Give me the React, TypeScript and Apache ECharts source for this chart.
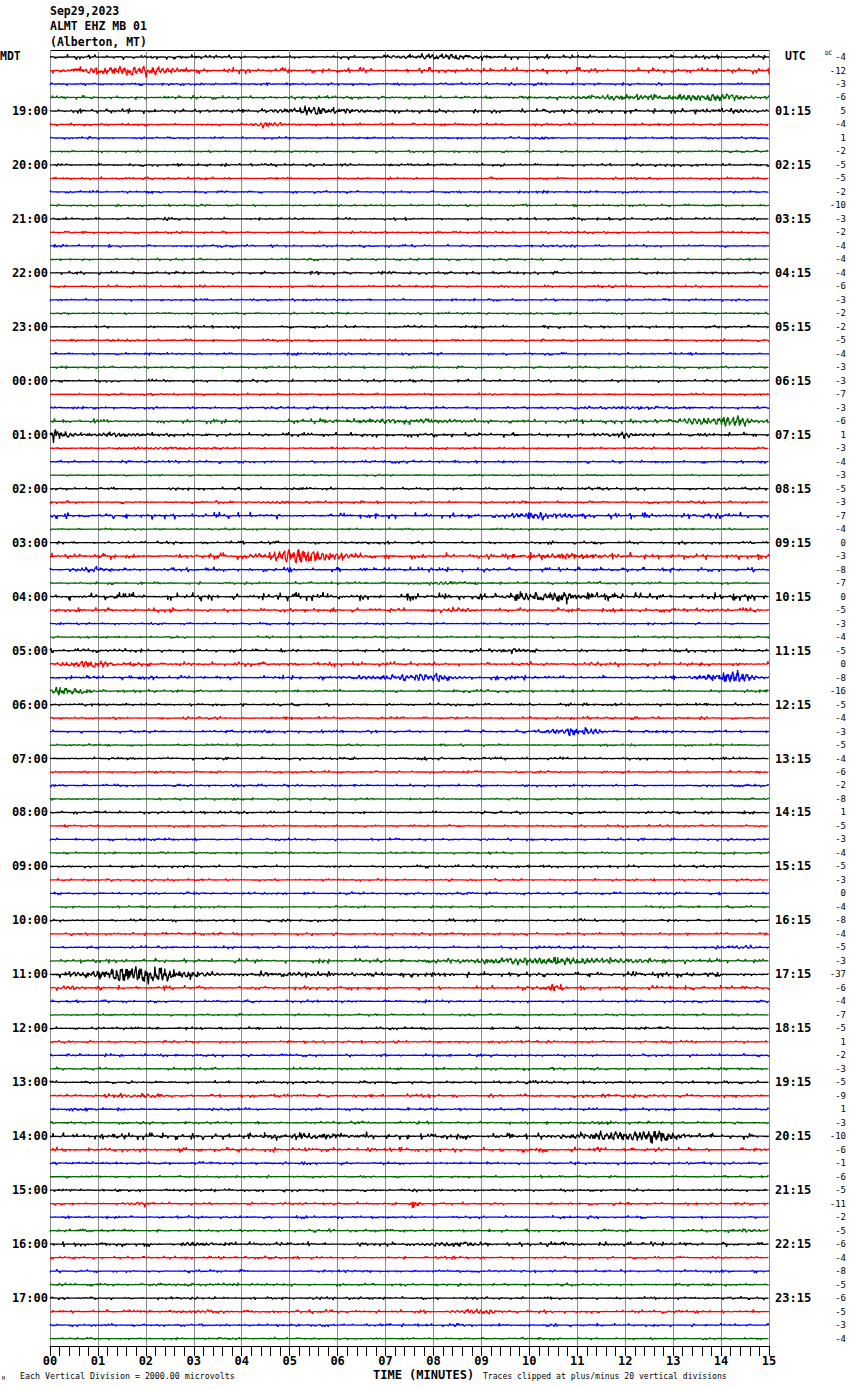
import React, { useEffect, useRef } from "react";
import * as echarts from "echarts";

// ---------- data ----------
const TRACE_COLORS = ["#000000", "#ff0000", "#0000ff", "#006600"];
const MINUTE_TICKS = ["00","01","02","03","04","05","06","07","08","09","10","11","12","13","14","15"];
const MDT_ROWS = [4,8,12,16,20,24,28,32,36,40,44,48,52,56,60,64,68,72,76,80,84,88,92];
const MDT_LABELS = ["19:00","20:00","21:00","22:00","23:00","00:00","01:00","02:00","03:00","04:00","05:00","06:00","07:00","08:00","09:00","10:00","11:00","12:00","13:00","14:00","15:00","16:00","17:00"];
const UTC_LABELS = ["01:15","02:15","03:15","04:15","05:15","06:15","07:15","08:15","09:15","10:15","11:15","12:15","13:15","14:15","15:15","16:15","17:15","18:15","19:15","20:15","21:15","22:15","23:15"];
const DC_VALUES = [
  -4,-12,-3,-6, 5,-4,1,-2, -5,-5,-2,-10, -3,-2,-4,-4,
  -4,-6,-3,-2, -2,-5,-4,-3, -3,-7,-3,-6, 1,-3,-4,-3,
  -5,-3,-7,-4, 0,-3,-8,-7, 0,-5,-3,-4, -5,0,-8,-16,
  -5,-4,-3,-5, -4,-6,-2,-8, 1,-5,-3,-4, -5,-3,0,-4,
  -8,-4,-5,-3, -37,-6,-4,-7, -5,1,-2,-3, -5,-9,1,-3,
  -10,-6,-1,-6, -5,-11,-2,-5, -6,-4,-8,-5, -6,-5,-3,-4,
];
// background noise level of each trace (pixels, peak)
const NOISE_PX = [
  1.5,2,1,1.2, 1.5,1,0.8,0.8, 1,0.9,0.9,0.8, 1,0.9,0.9,0.8,
  1,0.9,0.9,0.8, 1,0.9,0.9,0.8, 1,0.8,1,1.5, 1.5,0.8,1,0.6,
  1,1,2,0.7, 1,2,1.5,1, 2.5,1.5,0.8,0.8, 1.2,1.5,1.5,1,
  1,1,1,0.8, 1,0.9,0.9,0.8, 1,0.9,0.9,0.8, 1,0.9,0.9,0.8,
  1,1,1,1.5, 2,1.5,1,0.8, 1,0.9,1,1, 1,1.2,1,1,
  2,1.5,1,0.8, 1,1,1,1, 1.5,1,1,1, 1,1.2,1,0.8,
];
// [trace, startMin, peakMin, endMin, amplitudePx]
const EVENTS = [
  [0, 6.8, 8.3, 10.0, 3.5], [1, 0.0, 2.0, 3.3, 6], [3, 9.5, 14.2, 15.0, 4],
  [4, 4.3, 5.6, 7.5, 5], [4, 12.5, 14.5, 15.0, 2], [5, 3.9, 4.6, 5.3, 2.5],
  [26, 9.5, 12.0, 15.0, 1.2], [27, 5.0, 7.8, 10.0, 2.5], [27, 12.5, 14.3, 15.0, 6],
  [28, 0.0, 0.05, 0.6, 10], [28, 0.3, 1.5, 3.0, 2.5], [28, 11.0, 12.0, 13.0, 2],
  [29, 1.5, 2.5, 4.0, 1.5], [33, 4.0, 5.0, 6.5, 1.5], [34, 9.2, 10.2, 11.8, 4],
  [37, 4.0, 5.2, 7.0, 8], [37, 9.5, 11.0, 12.5, 3], [38, 0.3, 1.0, 2.0, 2],
  [39, 7.5, 8.5, 9.7, 2], [40, 9.2, 10.6, 11.5, 6], [41, 8.1, 8.5, 9.2, 3],
  [44, 9.2, 9.7, 10.5, 2.5], [45, 0.0, 0.8, 2.1, 5], [46, 5.3, 8.0, 9.0, 3.5],
  [46, 13.2, 14.3, 15.0, 7], [47, 0.0, 0.2, 1.3, 6], [50, 4.0, 4.5, 5.0, 1.5],
  [50, 10.0, 11.2, 11.8, 5], [66, 13.5, 14.5, 15.0, 1.5], [67, 7.0, 10.5, 15.0, 4],
  [68, 0.3, 2.0, 4.0, 10], [68, 4.0, 5.0, 8.0, 2], [69, 0.0, 0.5, 1.0, 2],
  [69, 10.2, 10.5, 10.8, 5], [77, 1.0, 2.2, 2.6, 2.5], [78, 0.4, 0.7, 1.1, 3],
  [79, 11.0, 11.5, 12.0, 2], [80, 4.0, 5.5, 7.5, 3.5], [80, 10.0, 12.8, 13.5, 6],
  [85, 7.5, 7.6, 7.8, 7], [85, 1.5, 2.0, 2.2, 2], [87, 14.0, 14.5, 15.0, 2],
  [88, 2.5, 3.0, 4.0, 3], [88, 7.5, 8.5, 9.5, 3], [88, 10.5, 10.7, 11.0, 2],
  [91, 13.5, 13.8, 14.0, 2], [93, 2.5, 3.0, 3.5, 2], [93, 8.2, 9.0, 9.8, 3],
];

const TRACE_COUNT = 96;
const SAMPLES = 1440;
const PX_PER_TRACE = 13.49;

function hash(a: number, b: number): number {
  let h = Math.imul(a ^ 0x9e3779b9, 0x85ebca6b) ^ Math.imul(b + 0x632be5ab, 0xc2b2ae35);
  h ^= h >>> 15; h = Math.imul(h, 0x2c1b3c6d);
  h ^= h >>> 12; h = Math.imul(h, 0x297a2d39);
  h ^= h >>> 15;
  return ((h >>> 0) / 4294967295) * 2 - 1;
}

function envelope(t: number, s: number, p: number, e: number): number {
  if (t < s || t > e) return 0;
  if (t <= p) return p - s <= 1e-6 ? 1 : Math.pow((t - s) / (p - s), 0.8);
  return e - p <= 1e-6 ? 1 : Math.pow(1 - (t - p) / (e - p), 1.4);
}

function buildTrace(k: number): number[][] {
  const evs = EVENTS.filter((ev) => ev[0] === k);
  const pts: number[][] = [];
  for (let i = 0; i <= SAMPLES; i++) {
    const t = (i / SAMPLES) * 15;
    const u = hash(k, i);
    let px = NOISE_PX[k] * (0.12 * u + 1.8 * Math.pow(u, 13));
    for (const ev of evs) {
      const env = envelope(t, ev[1], ev[2], ev[3]);
      if (env > 0) {
        const w = 0.6 * hash(k + 5000, i) + 0.4 * Math.sin(2 * Math.PI * 10 * t + k);
        px += ev[4] * env * w;
      }
    }
    pts.push([t, k + px / PX_PER_TRACE]);
  }
  return pts;
}

const MONO = '"DejaVu Sans Mono", monospace';

export default function App() {
  const ref = useRef<HTMLDivElement>(null);
  useEffect(() => {
    if (!ref.current) return;
    const chart = echarts.init(ref.current, undefined, { renderer: "svg" });
    const series: any[] = [];
    for (let k = 0; k < TRACE_COUNT; k++) {
      series.push({
        type: "line",
        data: buildTrace(k),
        showSymbol: false,
        symbol: "none",
        silent: true,
        lineStyle: { color: TRACE_COLORS[k % 4], width: 1.3 },
        emphasis: { disabled: true },
        z: 3,
      });
    }
    const yBase = { type: "value", min: -0.52, max: 95.55, inverse: true, splitLine: { show: false }, axisLine: { show: false, onZero: false }, axisTick: { show: false }, minorTick: { show: false } };
    const txt = (x: number, y: number, text: string, font: string, extra: any = {}) => ({
      type: "text", x, y, silent: true,
      style: { text, font, fill: "#000", align: "left", verticalAlign: "middle", ...extra },
    });
    chart.setOption({
      animation: false,
      backgroundColor: "#ffffff",
      grid: { left: 50, right: 81, top: 50, bottom: 44, containLabel: false },
      xAxis: [
        {
          type: "value", min: 0, max: 15, interval: 1, position: "bottom",
          axisLine: { show: true, onZero: false, lineStyle: { color: "#000", width: 1 } },
          axisTick: { show: true, length: 10, lineStyle: { color: "#000" } },
          minorTick: { show: true, splitNumber: 5, length: 10, lineStyle: { color: "#000" } },
          axisLabel: { margin: 9, color: "#000", fontFamily: MONO, fontWeight: "bold", fontSize: 12, formatter: (v: number) => MINUTE_TICKS[Math.round(v)] },
          splitLine: { show: true, showMinLine: true, showMaxLine: true, lineStyle: { color: "#8c8c8c", width: 1 } },
        },
      ],
      yAxis: [
        {
          ...yBase, position: "left",
          axisLabel: {
            customValues: MDT_ROWS, margin: 2, color: "#000", fontFamily: MONO, fontWeight: "bold", fontSize: 12,
            formatter: (v: number) => MDT_LABELS[MDT_ROWS.indexOf(Math.round(v))] || "",
          },
        },
        {
          ...yBase, position: "right",
          axisLabel: {
            customValues: MDT_ROWS, margin: 6, color: "#000", fontFamily: MONO, fontWeight: "bold", fontSize: 12,
            formatter: (v: number) => UTC_LABELS[MDT_ROWS.indexOf(Math.round(v))] || "",
          },
        },
        {
          ...yBase, position: "right",
          axisLabel: {
            customValues: DC_VALUES.map((_, i) => i), margin: 77, align: "right", color: "#000", fontFamily: MONO, fontSize: 9,
            formatter: (v: number) => String(DC_VALUES[Math.round(v)]),
          },
        },
      ],
      series,
      graphic: [
        { type: "line", silent: true, shape: { x1: 50, y1: 50.5, x2: 769, y2: 50.5 }, style: { stroke: "#000", lineWidth: 1.2 } },
        txt(50, 11, "Sep29,2023", `bold 11.5px ${MONO}`),
        txt(50, 26, "ALMT EHZ MB 01", `bold 11.5px ${MONO}`),
        txt(50, 42, "(Alberton, MT)", `bold 11.5px ${MONO}`),
        txt(0, 56, "MDT", `bold 11.5px ${MONO}`),
        txt(785, 56, "UTC", `bold 11.5px ${MONO}`),
        txt(825, 52, "DC", `6px ${MONO}`),
        txt(373, 1375, "TIME (MINUTES)", `bold 12px ${MONO}`),
        txt(20, 1376, "Each Vertical Division = 2000.00 microvolts", `8.3px ${MONO}`),
        txt(483, 1376, "Traces clipped at plus/minus 20 vertical divisions", `8.1px ${MONO}`),
        txt(2, 1378, "M", `5px ${MONO}`),
      ],
    });
    return () => chart.dispose();
  }, []);
  return <div ref={ref} style={{ position: "absolute", left: 0, top: 0, width: 850, height: 1390 }} />;
}
